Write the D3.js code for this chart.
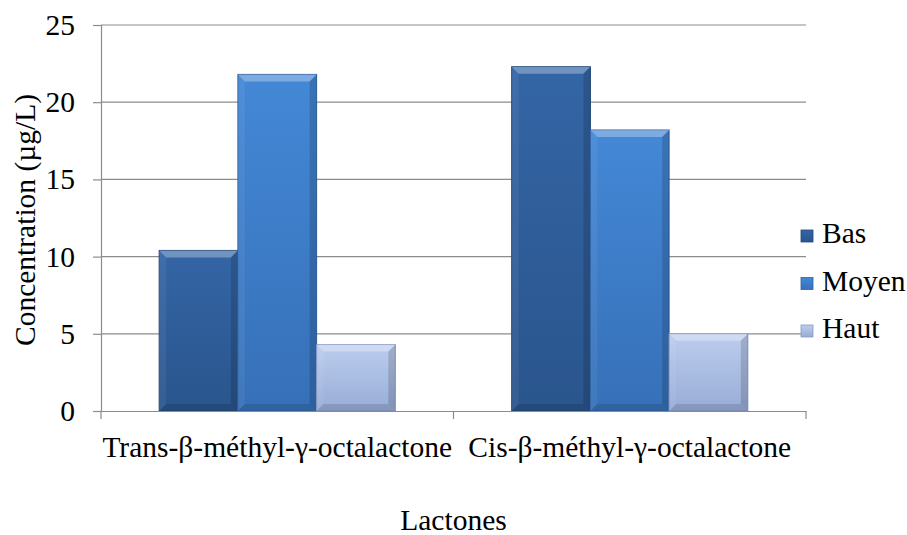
<!DOCTYPE html>
<html>
<head>
<meta charset="utf-8">
<script src="https://cdn.jsdelivr.net/npm/d3@7"></script>
<style>
  body { margin: 0; background: #fff; }
  svg text { font-family: "Liberation Serif", "Times New Roman", "DejaVu Serif", serif; font-size: 29.5px; }
</style>
</head>
<body>
<div id="chart"></div>
<script>
// chart data
const categories = ["Trans-β-méthyl-γ-octalactone", "Cis-β-méthyl-γ-octalactone"];
const seriesNames = ["Bas", "Moyen", "Haut"];
const bas = [10.4, 22.3];
const moyen = [21.8, 18.2];
const haut = [4.3, 5.0];
const yTicks = [0, 5, 10, 15, 20, 25];

const width = 907;
const height = 535;
const margin = { top: 25, right: 101, bottom: 124, left: 101 };

const seriesValues = [bas, moyen, haut];
const colors = {
  Bas: ["#2a558d", "#3465a5", "#22487a"],
  Moyen: ["#3670b8", "#4488d6", "#2f62a4"],
  Haut: ["#98acd6", "#bccdee", "#8599c6"]
};

const svg = d3.select("#chart")
  .append("svg")
  .attr("width", width)
  .attr("height", height);

const defs = svg.append("defs");
seriesNames.forEach((name) => {
  const c = colors[name];
  const g = defs.append("linearGradient")
    .attr("id", "grad-" + name)
    .attr("x1", 0).attr("x2", 0).attr("y1", 0).attr("y2", 1);
  g.append("stop").attr("offset", "0%").attr("stop-color", c[1]);
  g.append("stop").attr("offset", "100%").attr("stop-color", c[0]);
});

const plotW = width - margin.left - margin.right;
const plotH = height - margin.top - margin.bottom;

const x0 = d3.scaleBand()
  .domain(categories)
  .range([margin.left, margin.left + plotW])
  .paddingInner(0)
  .paddingOuter(0);

// bars take about 2/3 of each category band
const innerPad = (x0.bandwidth() - x0.bandwidth() * 0.67) / 2;
const x1 = d3.scaleBand()
  .domain(seriesNames)
  .range([innerPad, x0.bandwidth() - innerPad]);

const y = d3.scaleLinear()
  .domain([0, 25])
  .range([margin.top + plotH, margin.top]);

// gridlines
svg.append("g")
  .selectAll("line")
  .data(yTicks.filter((d) => d > 0))
  .enter()
  .append("line")
  .attr("x1", margin.left)
  .attr("x2", margin.left + plotW)
  .attr("y1", (d) => y(d))
  .attr("y2", (d) => y(d))
  .attr("stroke", "#8c8c8c")
  .attr("stroke-width", 1.2);

// y axis
const yAxis = svg.append("g")
  .attr("transform", `translate(${margin.left},0)`)
  .call(d3.axisLeft(y).tickValues(yTicks).tickSize(8).tickPadding(18));
yAxis.attr("font-size", null).attr("font-family", null);
yAxis.select(".domain").attr("stroke", "#8c8c8c").attr("stroke-width", 1.2);
yAxis.selectAll(".tick line").attr("stroke", "#8c8c8c").attr("stroke-width", 1.2);
yAxis.selectAll(".tick text").attr("fill", "#000");

// bars
const groups = svg.append("g")
  .selectAll("g")
  .data(categories)
  .enter()
  .append("g")
  .attr("transform", (d) => `translate(${x0(d)},0)`);

const bars = groups.selectAll("g")
  .data((d, i) => seriesNames.map((s, j) => ({ series: s, value: seriesValues[j][i] })))
  .enter()
  .append("g");

const bev = 7;
bars.append("rect")
  .attr("x", (d) => x1(d.series))
  .attr("y", (d) => y(d.value))
  .attr("width", x1.bandwidth())
  .attr("height", (d) => y(0) - y(d.value))
  .attr("fill", (d) => `url(#grad-${d.series})`)
  .attr("stroke", (d) => colors[d.series][2])
  .attr("stroke-width", 1);

// bevel: light top edge, darker sides
bars.append("path")
  .attr("d", (d) => {
    const xl = x1(d.series), xr = xl + x1.bandwidth(), yt = y(d.value);
    return `M${xl},${yt}L${xr},${yt}L${xr - bev},${yt + bev}L${xl + bev},${yt + bev}Z`;
  })
  .attr("fill", "#fff")
  .attr("opacity", 0.3);
bars.append("path")
  .attr("d", (d) => {
    const xl = x1(d.series), yt = y(d.value), yb = y(0);
    return `M${xl},${yt}L${xl + bev},${yt + bev}L${xl + bev},${yb - bev}L${xl},${yb}Z`;
  })
  .attr("fill", "#fff")
  .attr("opacity", 0.06);
bars.append("path")
  .attr("d", (d) => {
    const xr = x1(d.series) + x1.bandwidth(), yt = y(d.value), yb = y(0);
    return `M${xr},${yt}L${xr - bev},${yt + bev}L${xr - bev},${yb - bev}L${xr},${yb}Z`;
  })
  .attr("fill", "#000")
  .attr("opacity", 0.15);
bars.append("path")
  .attr("d", (d) => {
    const xl = x1(d.series), xr = xl + x1.bandwidth(), yb = y(0);
    return `M${xl},${yb}L${xr},${yb}L${xr - bev},${yb - bev}L${xl + bev},${yb - bev}Z`;
  })
  .attr("fill", "#000")
  .attr("opacity", 0.12);

// x axis
const xAxis = svg.append("g")
  .attr("transform", `translate(0,${y(0)})`)
  .call(d3.axisBottom(x0).tickSize(0).tickPadding(25));
xAxis.attr("font-size", null).attr("font-family", null);
xAxis.select(".domain").attr("stroke", "#8c8c8c").attr("stroke-width", 1.2);
xAxis.selectAll(".tick text").attr("fill", "#000");

// category separator ticks below the axis
svg.append("g")
  .selectAll("line")
  .data(categories.map((c) => x0(c)).concat([x0(categories[categories.length - 1]) + x0.bandwidth()]))
  .enter()
  .append("line")
  .attr("x1", (d) => d)
  .attr("x2", (d) => d)
  .attr("y1", y(0))
  .attr("y2", y(0) + 8)
  .attr("stroke", "#8c8c8c")
  .attr("stroke-width", 1.2);

// axis titles
svg.append("text")
  .attr("x", margin.left + plotW / 2)
  .attr("y", 530)
  .attr("text-anchor", "middle")
  .text("Lactones");

svg.append("text")
  .attr("transform", `translate(35,${margin.top + plotH / 2 + 2}) rotate(-90)`)
  .attr("text-anchor", "middle")
  .text("Concentration (µg/L)");

// legend
const legend = svg.append("g")
  .selectAll("g")
  .data(seriesNames)
  .enter()
  .append("g")
  .attr("transform", (d, i) => `translate(801,${243 + i * 47.5})`);

legend.append("rect")
  .attr("x", 0)
  .attr("y", -13)
  .attr("width", 12)
  .attr("height", 12)
  .attr("fill", (d) => `url(#grad-${d})`)
  .attr("stroke", (d) => colors[d][2])
  .attr("stroke-width", 0.8);

legend.append("text")
  .attr("x", 21)
  .attr("y", 0)
  .text((d) => d);
</script>
</body>
</html>
